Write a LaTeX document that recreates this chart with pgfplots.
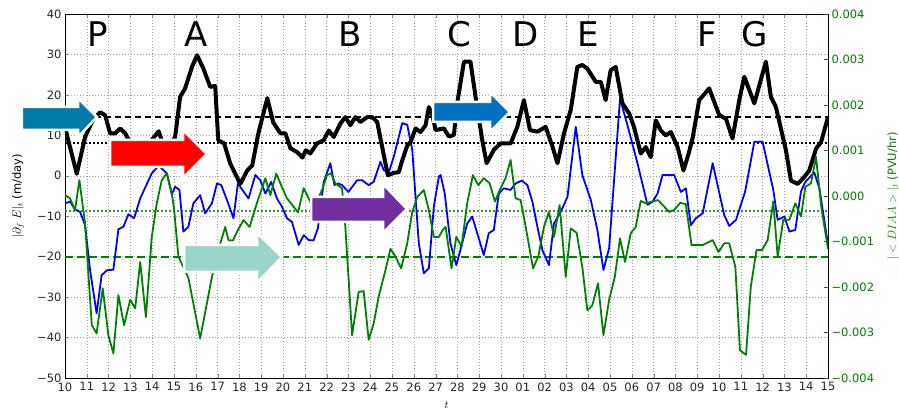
\documentclass[border=0pt]{standalone}
\usepackage{fontspec}
\setmainfont{DejaVu Sans}
\usepackage{pgfplots}
\pgfplotsset{compat=1.18}
\definecolor{mgreen}{RGB}{0,128,0}
\definecolor{mblue}{RGB}{0,0,255}
\definecolor{arrA}{RGB}{0,122,166}
\definecolor{arrB}{RGB}{255,0,0}
\definecolor{arrC}{RGB}{153,213,201}
\definecolor{arrD}{RGB}{112,48,160}
\definecolor{arrE}{RGB}{0,112,192}
\begin{document}
\begin{tikzpicture}
\useasboundingbox (-65pt,-34pt) rectangle (834pt,378pt);
\begin{axis}[
  at={(0pt,0pt)}, anchor=south west,
  scale only axis, width=763pt, height=364pt,
  xmin=0, xmax=35, ymin=-50, ymax=40,
  xtick={0,1,...,35},
  xticklabels={10,11,12,13,14,15,16,17,18,19,20,21,22,23,24,25,26,27,28,29,30,01,02,03,04,05,06,07,08,09,10,11,12,13,14,15},
  ytick={-50,-40,-30,-20,-10,0,10,20,30,40},
  yticklabels={−50,−40,−30,−20,−10,0,10,20,30,40},
  ytick pos=left, xtick pos=both, tick align=inside, major tick length=4pt,
  grid=major, grid style={gray!75, line width=0.5pt, dash pattern=on 1pt off 2pt},
  tick label style={font=\fontsize{11.5}{13}\selectfont, text=black!85},
  xticklabel style={yshift=-1pt},
  ylabel={$|\partial_f\ E|_t$ (m/day)},
  ylabel style={at={(axis description cs:-0.0616,0.5)}, anchor=center, font=\fontsize{11.5}{13}\selectfont},
  xlabel={$t$},
  xlabel style={at={(axis description cs:0.5,-0.0742)}, anchor=center, font=\fontsize{11}{13}\selectfont},
  axis line style={black, line width=0.8pt},
  clip=true,
]
\addplot[black, line width=2pt, dash pattern=on 6pt off 4pt] coordinates {(0,14.5)(35,14.5)};
\addplot[black, line width=2pt, dash pattern=on 1.8pt off 2.2pt] coordinates {(0,8)(35,8)};
\addplot[mgreen!80, line width=2pt, dash pattern=on 1.8pt off 2.2pt] coordinates {(0,-8.8)(35,-8.8)};
\addplot[mgreen, line width=2.5pt, dash pattern=on 8pt off 4pt] coordinates {(0,-20.1)(35,-20.1)};
\addplot[mblue, line width=1.8pt, line join=round] coordinates {
(0,-6.8)(0.23,-6.4)(0.46,-8.3)(0.69,-8.9)(0.92,-12.2)(1.15,-23.3)(1.45,-34)(1.68,-24.6)(1.92,-23.4)(2.22,-23.2)(2.45,-13.2)(2.68,-12.6)(2.91,-9.5)(3.17,-10.5)(3.45,-5.6)(3.98,0.6)(4.3,2.5)(4.67,0.6)(4.9,-4.6)(5.05,-2.7)(5.25,-3.5)(5.43,-13.8)(5.66,-12.6)(5.89,-6.8)(6.2,-4.8)(6.43,-9.3)(6.74,-6.8)(6.97,-1.9)(7.17,-2.3)(7.43,-6)(7.73,-10.5)(7.93,-1.9)(8.19,-3.9)(8.42,-5.6)(8.73,0.2)(8.96,-1.1)(9.19,-4.4)(9.46,-1.5)(9.72,-5.6)(9.95,-7.6)(10.18,-10.5)(10.41,-11.4)(10.72,-17.1)(10.95,-14.7)(11.18,-15.9)(11.4,-16)(11.6,-13)(11.87,-1.5)(12.17,3.1)(12.36,-2.3)(12.53,-1.9)(12.71,-2.3)(13.0,-4)(13.4,-1.1)(13.63,-1.1)(13.93,-2.3)(14.16,-1.5)(14.47,3.5)(14.62,1.4)(14.85,0.8)(15.08,4.7)(15.47,13)(15.7,12.6)(15.93,6.4)(16.08,-5.2)(16.23,-16.7)(16.46,-24.1)(16.69,-22.9)(16.92,-7.6)(17.15,-0.2)(17.23,0.2)(17.42,-4.4)(17.68,-16.7)(17.95,-22.1)(18.22,-16.7)(18.45,-11.8)(18.68,-10.1)(18.91,-14.2)(19.21,-19.6)(19.44,-14.2)(19.67,-13.4)(19.9,-4.4)(20.13,-3.1)(20.44,-3.5)(20.67,-1.9)(20.95,-1.2)(21.21,-2.3)(21.44,-6.4)(21.67,-12.6)(21.9,-18.4)(22.2,-22.1)(22.43,-11.8)(22.74,-8.9)(23.05,-5.2)(23.43,12.1)(23.73,0.2)(24.12,-6)(24.42,-13.4)(24.7,-23.3)(24.96,-17.9)(25.46,19.1)(25.8,12.5)(26.26,3.1)(26.72,-7.2)(26.95,-6.4)(27.18,-4.4)(27.41,0.2)(27.94,0.2)(28.25,-4)(28.48,-3.1)(28.71,-12.2)(28.94,-10.5)(29.25,-9.3)(29.71,3.1)(30.24,-9.7)(30.47,-12.4)(30.78,-10.9)(31.2,-3.9)(31.62,8.4)(32.0,8.4)(32.49,-3.5)(32.69,-10.9)(33.0,-10.1)(33.23,-13.8)(33.5,-13.4)(33.76,-3.9)(33.96,-1.5)(34.37,0.8)(34.6,-3)(35,-17)
};
\addplot[black, line width=4pt, line join=round] coordinates {
(0,12)(0.54,0.5)(0.92,9.6)(1.3,14)(1.61,15.7)(1.84,15)(2.07,10.5)(2.30,10.5)(2.53,11.7)(2.76,10.5)(3.2,6)(3.7,7)(4.3,11)(4.6,6)(5.05,9.5)(5.28,19.5)(5.51,21.6)(5.83,27)(6.06,29.8)(6.34,26.6)(6.66,22)(6.89,22.2)(7.03,8.8)(7.30,8)(7.58,3)(8.04,-2)(8.36,1.3)(8.59,2.6)(8.87,10.5)(9.28,19.2)(9.55,13.2)(9.88,10.5)(10.11,10.5)(10.34,6.8)(10.66,5.8)(10.89,4.5)(11.05,6.3)(11.25,5.5)(11.56,8)(11.87,8.8)(12.1,11.2)(12.33,9.6)(12.63,12.9)(12.86,14.5)(13.09,12.5)(13.32,14.5)(13.55,13.3)(13.86,14.5)(14.09,14.5)(14.32,13.3)(14.55,7.1)(14.81,0.1)(15.08,0.7)(15.31,0.9)(15.47,3.8)(15.7,7.5)(15.85,8.3)(16.08,11.7)(16.31,10.8)(16.54,12.5)(16.69,17)(16.85,15)(17.0,11.3)(17.38,11.7)(17.61,9.7)(17.84,10.1)(17.99,17.9)(18.3,28.2)(18.6,28.2)(18.83,19.6)(19.14,8.8)(19.34,3.1)(19.67,6.4)(19.98,8)(20.44,8)(20.75,12.1)(21.05,18.7)(21.33,11.3)(21.67,10.9)(22.05,12.1)(22.36,7.2)(22.59,3.1)(22.89,10.5)(23.2,16.3)(23.5,26.9)(23.73,27.4)(23.96,26.5)(24.35,23.2)(24.58,23.2)(24.8,18.7)(25.03,26.1)(25.26,26.9)(25.57,17.9)(25.88,15.4)(26.1,12.1)(26.41,5.5)(26.64,7.1)(26.87,4.6)(27.1,13.7)(27.33,11.2)(27.56,10)(27.79,10.8)(28.1,7.1)(28.37,1.3)(28.63,5.9)(28.8,9.6)(29.09,18.7)(29.55,21.6)(30.01,15)(30.32,14.1)(30.62,9.2)(30.93,18.7)(31.16,24.5)(31.62,17.9)(32.15,28.2)(32.38,19.5)(32.61,17)(33.07,6.3)(33.3,-1.2)(33.61,-2)(33.91,-0.3)(34.14,1.3)(34.45,6.7)(34.68,8.3)(35,14.5)
};
\end{axis}
\begin{axis}[
  at={(0pt,0pt)}, anchor=south west,
  scale only axis, width=763pt, height=364pt,
  xmin=0, xmax=35, ymin=-0.004, ymax=0.004,
  axis x line=none, axis y line*=right,
  scaled y ticks=false,
  ytick={-0.004,-0.003,-0.002,-0.001,0,0.001,0.002,0.003,0.004},
  yticklabels={−0.004,−0.003,−0.002,−0.001,0.000,0.001,0.002,0.003,0.004},
  tick align=inside, major tick length=4pt,
  ytick style={mgreen},
  yticklabel style={font=\fontsize{11.5}{13}\selectfont, text=mgreen},
  ylabel={$|<DIAA>|_t$ (PVU/hr)},
  ylabel style={at={(axis description cs:1.0852,0.5)}, anchor=center, font=\fontsize{11.5}{13}\selectfont, text=mgreen},
  axis line style={black, line width=0.8pt},
]
\addplot[mgreen, line width=1.8pt, line join=round] coordinates {
(0,0.00002)(0.23,-0.00005)(0.46,-0.00031)(0.66,0.00035)(0.92,-0.00060)(1.23,-0.00284)(1.45,-0.00302)(1.73,-0.00203)(1.99,-0.00306)(2.22,-0.00346)(2.45,-0.00218)(2.71,-0.00284)(2.99,-0.00228)(3.22,-0.00247)(3.45,-0.00145)(3.71,-0.00266)(3.98,-0.00090)(4.21,-0.00016)(4.44,0.00035)(4.67,0.00050)(4.9,0.00005)(5.0,-0.00027)(5.2,-0.00133)(5.66,-0.00180)(6.2,-0.00313)(6.74,-0.00178)(7.05,-0.00116)(7.35,-0.00068)(7.5,-0.00097)(7.7,-0.00098)(7.93,-0.00075)(8.19,-0.00053)(8.47,-0.00068)(8.8,-0.00016)(9.19,0.00039)(9.42,0.00002)(9.69,0.00049)(9.95,0.00020)(10.18,-0.00005)(10.69,-0.00036)(10.95,0.00017)(11.4,-0.00027)(11.79,0.00013)(12.02,0.00046)(12.2,0.00050)(12.4,0.00028)(12.71,0.00017)(12.86,-0.00068)(13.17,-0.00306)(13.47,-0.00211)(13.7,-0.00209)(13.93,-0.00316)(14.16,-0.00280)(14.39,-0.00221)(14.7,-0.00163)(14.93,-0.00116)(15.16,-0.00133)(15.42,-0.00159)(15.7,-0.00104)(15.93,-0.00035)(16.16,-0.00002)(16.46,0.00013)(16.69,-0.00031)(16.92,-0.00090)(17.15,-0.00090)(17.32,-0.00075)(17.46,-0.00068)(17.73,-0.00159)(17.95,-0.00090)(18.19,-0.00111)(18.45,-0.00016)(18.71,0.00046)(18.96,0.00024)(19.21,0.00039)(19.48,0.00028)(19.72,-0.00012)(19.94,0.00013)(20.21,0.00039)(20.44,0.00079)(20.67,-0.00005)(20.9,-0.00009)(21.16,-0.00075)(21.47,-0.00159)(21.71,-0.00133)(21.97,-0.00068)(22.2,-0.00035)(22.43,-0.00090)(22.69,-0.00020)(22.97,-0.00178)(23.2,-0.00071)(23.47,-0.00081)(23.73,-0.00156)(23.96,-0.00251)(24.19,-0.00240)(24.45,-0.00192)(24.7,-0.00306)(24.96,-0.00228)(25.22,-0.00178)(25.46,-0.00093)(25.69,-0.00145)(25.95,-0.00082)(26.18,-0.00068)(26.41,-0.00011)(26.64,-0.00016)(26.95,-0.00012)(27.2,-0.00009)(27.48,-0.00023)(27.71,-0.00035)(27.94,-0.00031)(28.22,-0.00015)(28.48,-0.00018)(28.74,-0.00108)(29.02,-0.00108)(29.25,-0.00108)(29.71,-0.00097)(29.98,-0.00123)(30.24,-0.00104)(30.47,-0.00104)(30.75,-0.00156)(30.96,-0.00339)(31.24,-0.00349)(31.46,-0.00199)(31.72,-0.00119)(31.97,-0.00119)(32.23,-0.00097)(32.49,-0.00012)(32.69,-0.00133)(32.95,-0.00052)(33.23,-0.00052)(33.5,-0.00016)(33.76,-0.00045)(33.96,0.00020)(34.22,0.00028)(34.45,0.00086)(34.7,-0.00027)(35,-0.00116)
};
\end{axis}
% annotation arrows
\filldraw[fill=arrA, draw=white, line width=2.5pt, line join=miter] (-43pt,248pt) -- (13pt,248pt) -- (13pt,241pt) -- (32pt,261pt) -- (13pt,280pt) -- (13pt,271pt) -- (-43pt,271pt) -- cycle;
\filldraw[fill=arrB, draw=white, line width=2.5pt] (45pt,211pt) -- (118pt,211pt) -- (118pt,200pt) -- (142pt,224pt) -- (118pt,248pt) -- (118pt,238pt) -- (45pt,238pt) -- cycle;
\filldraw[fill=arrC, draw=white, line width=2.5pt] (119pt,106pt) -- (192pt,106pt) -- (192pt,95pt) -- (217pt,121pt) -- (192pt,145pt) -- (192pt,133pt) -- (119pt,133pt) -- cycle;
\filldraw[fill=arrD, draw=white, line width=2.5pt] (246pt,156pt) -- (318pt,156pt) -- (318pt,145pt) -- (342pt,169pt) -- (318pt,194pt) -- (318pt,181pt) -- (246pt,181pt) -- cycle;
\filldraw[fill=arrE, draw=white, line width=2.5pt] (368pt,256pt) -- (425pt,256pt) -- (425pt,246pt) -- (445pt,266pt) -- (425pt,286pt) -- (425pt,276pt) -- (368pt,276pt) -- cycle;
% letters
\begin{scope}[every node/.style={anchor=base, inner sep=0pt, font=\fontsize{34}{34}\selectfont}]
\node at (33pt,331pt) {P};
\node at (131.5pt,331pt) {A};
\node at (285pt,331pt) {B};
\node at (394.5pt,331pt) {C};
\node at (460.5pt,331pt) {D};
\node at (523pt,331pt) {E};
\node at (642pt,331pt) {F};
\node at (689.5pt,331pt) {G};
\end{scope}
\end{tikzpicture}
\end{document}
